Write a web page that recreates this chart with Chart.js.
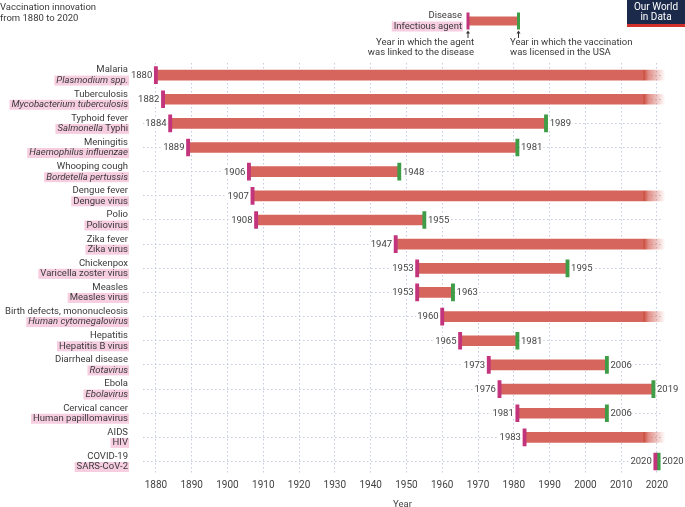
<!DOCTYPE html>
<html><head><meta charset="utf-8">
<script src="https://cdn.jsdelivr.net/npm/chart.js@4/dist/chart.umd.min.js"></script>
<style>html,body{margin:0;padding:0;background:#fff}#wrap{width:685px;height:507px;position:relative}</style>
</head><body><div id="wrap"><canvas id="c" width="685" height="507"></canvas></div>
<script>
const diseases = ['Malaria','Tuberculosis','Typhoid fever','Meningitis','Whooping cough','Dengue fever','Polio','Zika fever','Chickenpox','Measles','Birth defects, mononucleosis','Hepatitis','Diarrheal disease','Ebola','Cervical cancer','AIDS','COVID-19'];
const agents = ['Plasmodium spp.','Mycobacterium tuberculosis','Salmonella Typhi','Haemophilus influenzae','Bordetella pertussis','Dengue virus','Poliovirus','Zika virus','Varicella zoster virus','Measles virus','Human cytomegalovirus','Hepatitis B virus','Rotavirus','Ebolavirus','Human papillomavirus','HIV','SARS-CoV-2'];
const agentItalicPart = ['Plasmodium spp.','Mycobacterium tuberculosis','Salmonella','Haemophilus influenzae','Bordetella pertussis','','','','','','Human cytomegalovirus','','Rotavirus','Ebolavirus','','',''];
const linkedYear = [1880,1882,1884,1889,1906,1907,1908,1947,1953,1953,1960,1965,1973,1976,1981,1983,2020];
const licensedYear = [null,null,1989,1981,1948,null,1955,null,1995,1963,null,1981,2006,2019,2006,null,2020];
const ongoingEnd = 2023;
const xTicks = [1880,1890,1900,1910,1920,1930,1940,1950,1960,1970,1980,1990,2000,2010,2020];

const FONT = 'Roboto, "DejaVu Sans", sans-serif';
const FS = 9.5;
const BAR = '#d6665d', MAG = '#c2347c', GRN = '#3f9c47';
const same = i => licensedYear[i] === linkedYear[i];
const half = 0.45;

const doneBars = linkedYear.map((s,i)=> (licensedYear[i]!=null && !same(i)) ? [s, licensedYear[i]] : null);
const openBars = linkedYear.map((s,i)=> licensedYear[i]==null ? [s, ongoingEnd] : null);
const startMarks = linkedYear.map((s,i)=> same(i) ? [s-2*half, s] : [s-half, s+half]);
const endMarks = licensedYear.map((e,i)=> e==null ? null : (same(i) ? [e, e+2*half] : [e-half, e+half]));

function fadeFill(ctx){
  const chart = ctx.chart; const xs = chart.scales.x;
  if(!chart.chartArea || !xs) return BAR;
  const a = xs.getPixelForValue(2016), b = xs.getPixelForValue(2022.3);
  const g = chart.ctx.createLinearGradient(a,0,b,0);
  g.addColorStop(0, BAR);
  g.addColorStop(0.06, '#c9503f');
  g.addColorStop(0.25, 'rgba(214,102,93,0.75)');
  g.addColorStop(1, 'rgba(214,102,93,0)');
  return g;
}

const deco = {
  id:'deco',
  afterDatasetsDraw(chart){
    const c = chart.ctx, xs = chart.scales.x, ys = chart.scales.y;
    c.save();
    c.textBaseline = 'middle';
    c.font = FS + 'px ' + FONT;
    diseases.forEach((d,i)=>{
      const y = ys.getPixelForValue(i);
      const s = linkedYear[i], e = licensedYear[i];
      const sx = xs.getPixelForValue(same(i) ? s-2*half : s-half) - 2;
      const st = String(s), sw = c.measureText(st).width;
      c.fillStyle = '#fff'; c.fillRect(sx-sw-1, y-5, sw+2, 10);
      c.fillStyle = '#444'; c.textAlign = 'right'; c.fillText(st, sx, y+0.5);
      if(e!=null){
        const ex = xs.getPixelForValue(same(i) ? e+2*half : e+half) + 2;
        const et = String(e), ew = c.measureText(et).width;
        c.fillStyle = '#fff'; c.fillRect(ex-1, y-5, ew+2, 10);
        c.fillStyle = '#444'; c.textAlign = 'left'; c.fillText(et, ex, y+0.5);
      }
    });
    c.restore();
  },
  afterDraw(chart){
    const c = chart.ctx, ys = chart.scales.y;
    c.save();
    c.textBaseline = 'middle';
    const R = 128;
    diseases.forEach((d,i)=>{
      const y = ys.getPixelForValue(i);
      c.font = FS + 'px ' + FONT; c.textAlign = 'right'; c.fillStyle = '#3a3a3a';
      c.fillText(d, R, y-5);
      const it = agentItalicPart[i], full = agents[i];
      const rest = full.slice(it.length);
      c.font = 'italic ' + FS + 'px ' + FONT; const w1 = it ? c.measureText(it).width : 0;
      c.font = FS + 'px ' + FONT; const w2 = rest ? c.measureText(rest).width : 0;
      const w = w1 + w2;
      c.fillStyle = '#f7cde0'; c.fillRect(R-w-2, y+0.5, w+3, 10);
      c.fillStyle = '#3a3a3a'; c.textAlign = 'left';
      if(it){ c.font = 'italic ' + FS + 'px ' + FONT; c.fillText(it, R-w, y+5.5); }
      if(rest){ c.font = FS + 'px ' + FONT; c.fillText(rest, R-w2, y+5.5); }
    });
    // title
    c.font = '9.5px ' + FONT; c.fillStyle = '#3a3a3a'; c.textAlign = 'left';
    c.fillText('Vaccination innovation', 0, 8);
    c.fillText('from 1880 to 2020', 0, 19);
    // legend
    c.font = FS + 'px ' + FONT; c.textAlign = 'right';
    c.fillText('Disease', 462, 15.5);
    const lt = 'Infectious agent', lw = c.measureText(lt).width;
    c.fillStyle = '#f7cde0'; c.fillRect(462-lw-2, 21.5, lw+3, 10);
    c.fillStyle = '#3a3a3a'; c.fillText(lt, 462, 26.5);
    c.fillStyle = BAR; c.fillRect(468, 16.5, 50, 9);
    c.fillStyle = MAG; c.fillRect(466.5, 12.5, 3, 17);
    c.fillStyle = GRN; c.fillRect(517, 12.5, 3, 17);
    c.strokeStyle = '#333'; c.fillStyle = '#333'; c.lineWidth = 1;
    [468, 518.5].forEach(x=>{
      c.beginPath(); c.moveTo(x, 33); c.lineTo(x, 38); c.stroke();
      c.beginPath(); c.moveTo(x-2, 33.5); c.lineTo(x, 30.5); c.lineTo(x+2, 33.5); c.closePath(); c.fill();
    });
    c.fillStyle = '#3a3a3a';
    c.textAlign = 'right';
    c.fillText('Year in which the agent', 474, 43);
    c.fillText('was linked to the disease', 474, 53);
    c.textAlign = 'left';
    c.fillText('Year in which the vaccination', 510, 43);
    c.fillText('was licensed in the USA', 510, 53);
    // OWID logo
    c.fillStyle = '#1b2a4a'; c.fillRect(627, 0, 58, 24);
    c.fillStyle = '#d2312b'; c.fillRect(627, 24, 58, 3);
    c.fillStyle = '#fff'; c.textAlign = 'center'; c.font = '10px ' + FONT;
    c.fillText('Our World', 656, 7);
    c.fillText('in Data', 656, 17);
    c.restore();
  }
};

new Chart(document.getElementById('c'), {
  type: 'bar',
  data: {
    labels: diseases,
    datasets: [
      {data: startMarks, backgroundColor: MAG, barThickness: 17, grouped: false, order: 0},
      {data: endMarks, backgroundColor: GRN, barThickness: 17, grouped: false, order: 0},
      {data: doneBars, backgroundColor: BAR, barThickness: 10, grouped: false, order: 1},
      {data: openBars, backgroundColor: fadeFill, barThickness: 10, grouped: false, order: 1, clip: 12}
    ]
  },
  options: {
    indexAxis: 'y',
    responsive: false,
    animation: false,
    events: [],
    layout: {padding: {left: 143, right: 23, top: 63, bottom: -3}},
    plugins: {legend: {display: false}, tooltip: {enabled: false}},
    scales: {
      x: {
        type: 'linear', min: 1876.4, max: 2021.4,
        afterBuildTicks: ax => { ax.ticks = xTicks.map(v=>({value:v})); },
        ticks: {font: {family: FONT, size: 10}, color: '#444', padding: 6, callback: v => String(v)},
        grid: {color: '#c5cbe0', lineWidth: 1, drawTicks: false},
        border: {display: false, dash: [1.5, 2.5]},
        title: {display: true, text: 'Year', font: {family: FONT, size: 9.5}, color: '#444', padding: {top: 1, bottom: 0}}
      },
      y: {
        type: 'category',
        ticks: {display: false},
        grid: {color: '#c5cbe0', lineWidth: 1, drawTicks: false, offset: false},
        border: {display: false, dash: [1.5, 2.5]}
      }
    }
  },
  plugins: [deco]
});
</script></body></html>
